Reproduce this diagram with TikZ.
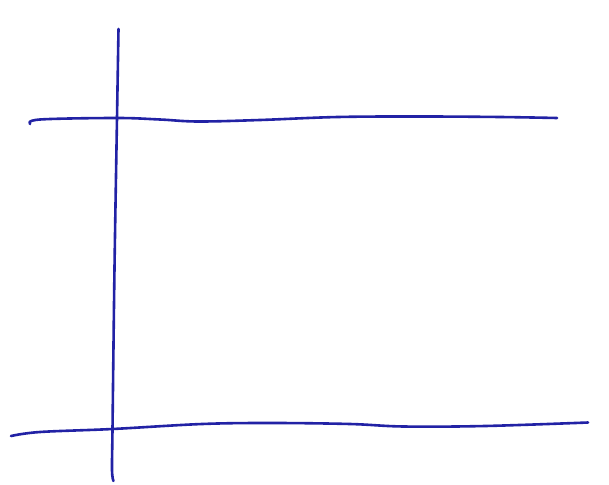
\documentclass[tikz,border=0pt]{standalone}
\begin{document}
\begin{tikzpicture}[x=1pt,y=-1pt,
  pen/.style={draw=penblue,line width=2.6pt,line cap=round,line join=round}]
\definecolor{penblue}{RGB}{34,34,165}
\useasboundingbox[fill=white] (0,0) rectangle (609,484);
% vertical line
\draw[pen] plot[smooth,tension=0.6] coordinates {(118.5,29) (117,118) (114.5,268) (112.5,429) (112,470) (113.5,481)};
% top horizontal line
\draw[pen] plot[smooth,tension=0.6] coordinates {(30,124) (40,119.5) (116.5,118) (160,119.5) (198,121.5) (260,120) (338,117) (421,116.5) (500,117) (557,118)};
% bottom horizontal line
\draw[pen] plot[smooth,tension=0.6] coordinates {(11,436) (40,432) (112.5,429) (202,424) (272,423) (350,424) (404,426.5) (485,426) (588,422.5)};
\end{tikzpicture}
\end{document}
